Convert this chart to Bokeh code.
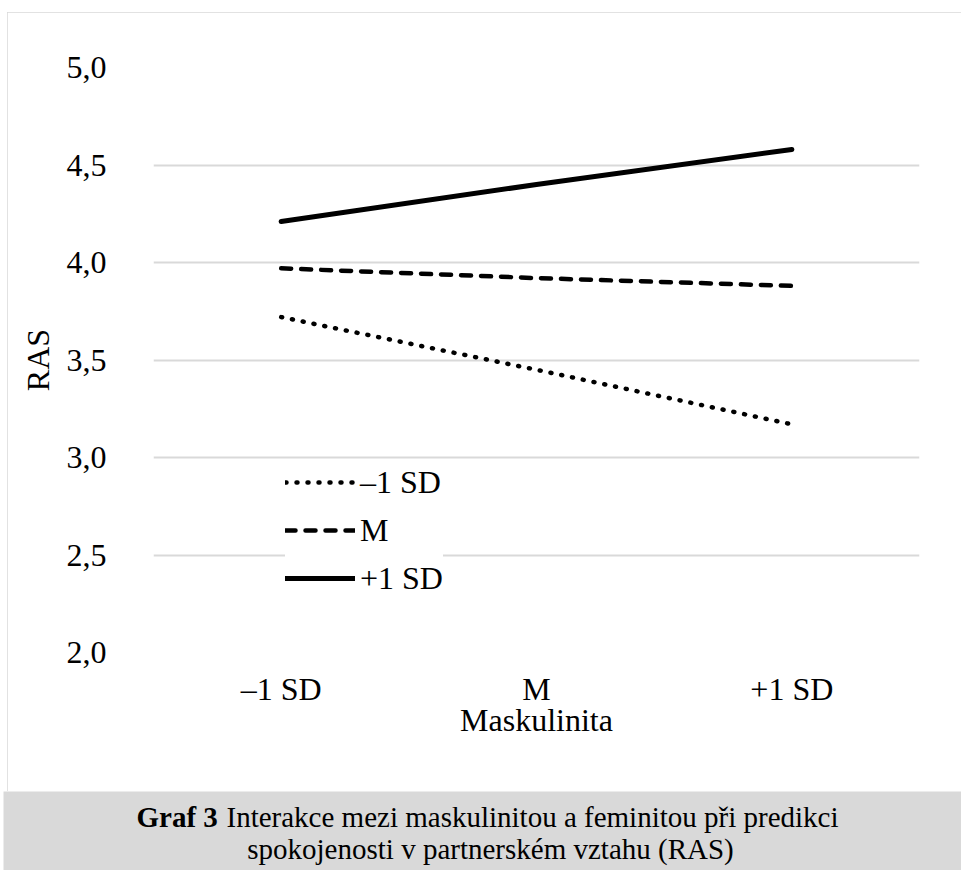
from bokeh.plotting import figure
from bokeh.models import (FactorRange, Range1d, FixedTicker, CustomJSTickFormatter,
                          Legend, LegendItem, Label)
from bokeh.layouts import column
from bokeh.embed import file_html
from bokeh.resources import INLINE

# ---- data ----
categories = ["–1 SD", "M", "+1 SD"]
series_names = ["–1 SD", "M", "+1 SD"]
low_fem = [3.72, 3.45, 3.17]
mean_fem = [3.97, 3.92, 3.88]
high_fem = [4.21, 4.40, 4.58]
y_ticks = [2.0, 2.5, 3.0, 3.5, 4.0, 4.5, 5.0]
caption_bold = "Graf 3"
caption_line1 = "Interakce mezi maskulinitou a feminitou při predikci"
caption_line2 = "spokojenosti v partnerském vztahu (RAS)"

FONT = "Liberation Serif"
FS = "32px"
CAP_FS = "29px"

# chart figure occupies page x 7..961, y 12..791
p = figure(width=954, height=779, x_range=FactorRange(*categories, range_padding=0),
           y_range=Range1d(2.0, 5.0), output_backend="svg", toolbar_location=None,
           min_border_left=146, min_border_right=42, min_border_top=55, min_border_bottom=139,
           margin=(12, 0, 0, 7))
p.frame_align = False
p.styles = {"outline": "2px solid #d9d9d9", "outline-offset": "-2px"}
p.outline_line_color = None
p.background_fill_color = "white"
p.border_fill_color = "white"

p.xgrid.grid_line_color = None
p.ygrid.grid_line_color = "#d9d9d9"
p.ygrid.grid_line_width = 2
p.yaxis.ticker = FixedTicker(ticks=y_ticks)
p.yaxis.formatter = CustomJSTickFormatter(code="return tick.toFixed(1).replace('.', ',');")

for ax in (p.xaxis[0], p.yaxis[0]):
    ax.axis_line_color = None
    ax.major_tick_line_color = None
    ax.minor_tick_line_color = None
    ax.major_label_text_font = FONT
    ax.major_label_text_font_size = FS
    ax.major_label_text_color = "black"
    ax.axis_label_text_font = FONT
    ax.axis_label_text_font_size = FS
    ax.axis_label_text_font_style = "normal"
    ax.axis_label_text_color = "black"

p.yaxis.axis_label = "RAS"
p.yaxis.major_label_standoff = 41
p.yaxis.axis_label_standoff = 8
p.xaxis.axis_label = "Maskulinita"
p.xaxis.major_label_standoff = 12
p.xaxis.axis_label_standoff = -8

r1 = p.line(categories, low_fem, line_color="black", line_width=4.5, line_dash="1 10", line_cap="round")
r2 = p.line(categories, mean_fem, line_color="black", line_width=4.5, line_dash="10 10", line_cap="round")
r3 = p.line(categories, high_fem, line_color="black", line_width=5, line_cap="round")

legend = Legend(items=[LegendItem(label=series_names[0], renderers=[r1]),
                       LegendItem(label=series_names[1], renderers=[r2]),
                       LegendItem(label=series_names[2], renderers=[r3])],
                location=(132, 54), orientation="vertical",
                glyph_width=70, glyph_height=40, label_height=40, spacing=8,
                padding=10, margin=0, label_standoff=5,
                label_text_font=FONT, label_text_font_size=FS, label_text_color="black",
                border_line_color=None, background_fill_color="white", background_fill_alpha=1)
p.add_layout(legend, "center")

# caption figure: page x 3..961, y 791..870
c = figure(width=958, height=79, x_range=Range1d(0, 958), y_range=Range1d(79, 0),
           output_backend="svg", toolbar_location=None, x_axis_type=None, y_axis_type=None,
           min_border=0, min_border_left=0, min_border_right=0, min_border_top=0,
           min_border_bottom=0, margin=(0, 0, 0, 3))
c.frame_align = False
c.outline_line_color = None
c.background_fill_color = "#d9d9d9"
c.border_fill_color = "#d9d9d9"
c.xgrid.grid_line_color = None
c.ygrid.grid_line_color = None

c.add_layout(Label(x=133, y=25, text=caption_bold, text_font=FONT, text_font_size=CAP_FS,
                   text_font_style="bold", text_color="black", text_align="left",
                   text_baseline="alphabetic"))
c.add_layout(Label(x=223, y=25, text=caption_line1, text_font=FONT, text_font_size=CAP_FS,
                   text_color="black", text_align="left", text_baseline="alphabetic"))
c.add_layout(Label(x=487, y=57, text=caption_line2, text_font=FONT, text_font_size=CAP_FS,
                   text_color="black", text_align="center", text_baseline="alphabetic"))

layout = column(p, c, spacing=0)
open("out.html", "w").write(file_html(layout, INLINE))
